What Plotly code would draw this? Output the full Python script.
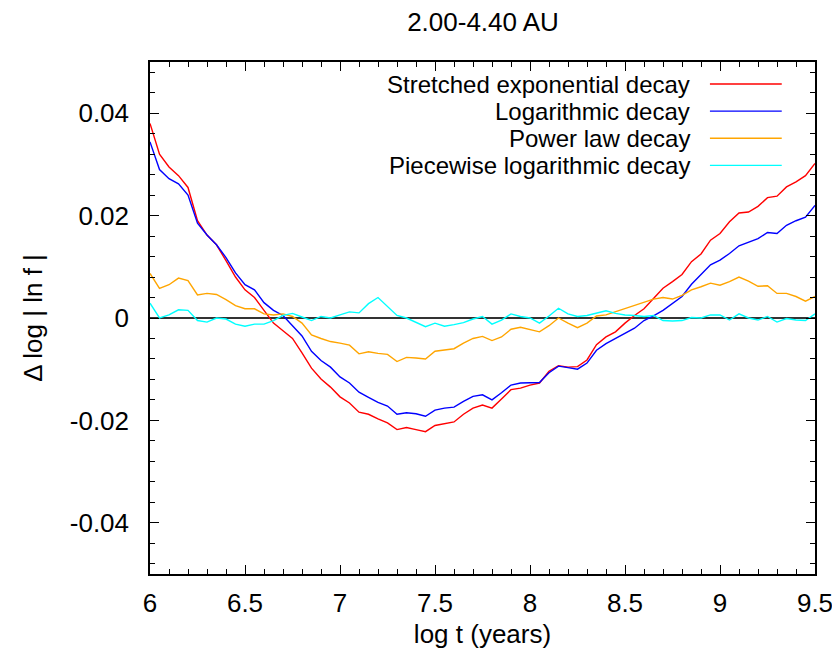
import plotly.graph_objects as go

# x grid (log t, years)
log_t = [round(6.0 + 0.05 * i, 2) for i in range(71)]

stretched_exp = [
    0.0380, 0.0320, 0.0295, 0.0278, 0.0255, 0.0190, 0.0162, 0.0143, 0.0112, 0.0080,
    0.0055, 0.0040, 0.0015, -0.0010, -0.0025, -0.0040, -0.0068, -0.0098, -0.0119, -0.0135,
    -0.0154, -0.0166, -0.0184, -0.0188, -0.0197, -0.0205, -0.0218, -0.0214, -0.0218, -0.0222,
    -0.0210, -0.0206, -0.0203, -0.0188, -0.0176, -0.0170, -0.0176, -0.0158, -0.0140, -0.0137,
    -0.0131, -0.0127, -0.0104, -0.0093, -0.0096, -0.0095, -0.0082, -0.0052, -0.0037, -0.0027,
    -0.0010, 0.0005, 0.0018, 0.0038, 0.0058, 0.0071, 0.0085, 0.0110, 0.0125, 0.0152,
    0.0165, 0.0188, 0.0205, 0.0207, 0.0218, 0.0235, 0.0238, 0.0256, 0.0266, 0.0278,
    0.0302,
]

logarithmic = [
    0.0344, 0.0290, 0.0272, 0.0262, 0.0240, 0.0185, 0.0162, 0.0143, 0.0118, 0.0088,
    0.0065, 0.0055, 0.0030, 0.0015, 0.0005, -0.0015, -0.0035, -0.0065, -0.0083, -0.0096,
    -0.0115, -0.0127, -0.0145, -0.0155, -0.0165, -0.0172, -0.0188, -0.0185, -0.0187, -0.0192,
    -0.0180, -0.0176, -0.0174, -0.0163, -0.0153, -0.0150, -0.0160, -0.0146, -0.0131, -0.0127,
    -0.0127, -0.0126, -0.0107, -0.0094, -0.0097, -0.0100, -0.0088, -0.0063, -0.0050, -0.0040,
    -0.0030, -0.0020, -0.0005, 0.0004, 0.0015, 0.0028, 0.0042, 0.0066, 0.0085, 0.0104,
    0.0113, 0.0126, 0.0141, 0.0148, 0.0155, 0.0167, 0.0165, 0.0181, 0.0190, 0.0197,
    0.0220,
]

power_law = [
    0.0087, 0.0058, 0.0065, 0.0078, 0.0073, 0.0045, 0.0048, 0.0046, 0.0036, 0.0024,
    0.0018, 0.0018, 0.0008, 0.0006, 0.0008, 0.0003, -0.0010, -0.0033, -0.0040, -0.0046,
    -0.0049, -0.0053, -0.0070, -0.0066, -0.0069, -0.0071, -0.0085, -0.0077, -0.0078, -0.0080,
    -0.0065, -0.0063, -0.0060, -0.0049, -0.0040, -0.0036, -0.0044, -0.0037, -0.0022, -0.0018,
    -0.0023, -0.0027, -0.0015, 0.0000, -0.0010, -0.0019, -0.0010, 0.0004, 0.0006, 0.0012,
    0.0019, 0.0025, 0.0031, 0.0037, 0.0040, 0.0037, 0.0044, 0.0055, 0.0061, 0.0068,
    0.0064, 0.0071, 0.0080, 0.0072, 0.0062, 0.0063, 0.0048, 0.0048, 0.0042, 0.0033,
    0.0042,
]

piecewise_log = [
    0.0029, 0.0000, 0.0006, 0.0016, 0.0015, -0.0005, -0.0008, 0.0000, -0.0002, -0.0012,
    -0.0016, -0.0012, -0.0012, -0.0005, 0.0005, 0.0009, 0.0002, -0.0005, 0.0003, 0.0000,
    0.0006, 0.0012, 0.0010, 0.0028, 0.0040, 0.0022, 0.0005, 0.0000, -0.0008, -0.0017,
    -0.0010, -0.0016, -0.0013, -0.0009, -0.0002, 0.0003, -0.0012, -0.0004, 0.0008, 0.0003,
    0.0000, -0.0010, 0.0004, 0.0019, 0.0008, 0.0003, 0.0005, 0.0010, 0.0014, 0.0009,
    0.0006, 0.0005, 0.0003, 0.0005, -0.0005, -0.0006, -0.0005, 0.0001, 0.0000, 0.0006,
    0.0006, -0.0004, 0.0008, 0.0000, -0.0004, 0.0003, -0.0008, -0.0001, -0.0004, -0.0005,
    0.0008,
]

series_names = [
    "Stretched exponential decay",
    "Logarithmic decay",
    "Power law decay",
    "Piecewise logarithmic decay",
]
series_values = [stretched_exp, logarithmic, power_law, piecewise_log]
series_colors = ["#ff0000", "#0000ff", "#ffa500", "#00ffff"]

x_tick_vals = [6, 6.5, 7, 7.5, 8, 8.5, 9, 9.5]
x_tick_text = ["6", "6.5", "7", "7.5", "8", "8.5", "9", "9.5"]
y_tick_vals = [-0.04, -0.02, 0, 0.02, 0.04]
y_tick_text = ["-0.04", "-0.02", "0", "0.02", "0.04"]

FONT = "Liberation Sans, Arial, sans-serif"
FS = 26
LEG_FS = 24

fig = go.Figure()
for name, vals, col in zip(series_names, series_values, series_colors):
    fig.add_trace(go.Scatter(x=log_t, y=vals, mode="lines", name=name,
                             line=dict(color=col, width=1.4), showlegend=False))

# manual legend (text right-aligned, sample line to the right)
leg_y = [0.957, 0.904, 0.851, 0.798]
for name, col, yy in zip(series_names, series_colors, leg_y):
    fig.add_annotation(x=0.815, y=yy, xref="paper", yref="paper", text=name,
                       showarrow=False, xanchor="right", yanchor="middle",
                       font=dict(family=FONT, size=LEG_FS, color="black"))
    fig.add_shape(type="line", xref="paper", yref="paper", x0=0.842, x1=0.950,
                  y0=yy, y1=yy, line=dict(color=col, width=1.4))

fig.update_layout(
    width=840, height=660,
    margin=dict(l=142, r=33, t=54, b=94),
    paper_bgcolor="white", plot_bgcolor="white",
    font=dict(family=FONT, size=FS, color="black"),
    title=dict(text="2.00-4.40 AU", x=0.5655, xanchor="center", y=0.979, yanchor="middle",
               font=dict(family=FONT, size=FS)),
)
fig.update_xaxes(
    range=[6, 9.5], tickvals=x_tick_vals, ticktext=x_tick_text,
    ticks="inside", ticklen=9, tickwidth=1.2, tickcolor="black",
    minor=dict(ticks="inside", dtick=0.1, ticklen=5, tickwidth=1.2, tickcolor="black"),
    showline=True, linecolor="black", linewidth=1.5, mirror="ticks",
    showgrid=False, zeroline=False, ticklabelstandoff=5,
    title=dict(text="log t (years)", standoff=8, font=dict(family=FONT, size=FS)),
)
fig.update_yaxes(
    range=[-0.05, 0.05], tickvals=y_tick_vals, ticktext=y_tick_text,
    ticks="inside", ticklen=9, tickwidth=1.2, tickcolor="black",
    minor=dict(ticks="inside", dtick=0.004, ticklen=5, tickwidth=1.2, tickcolor="black"),
    showline=True, linecolor="black", linewidth=1.5, mirror="ticks",
    showgrid=False, zeroline=True, zerolinecolor="#333333", zerolinewidth=1.5,
    ticklabelstandoff=14,
    title=dict(text="Δ log | ln f |", standoff=20, font=dict(family=FONT, size=FS)),
)

fig.write_html("out.html")
